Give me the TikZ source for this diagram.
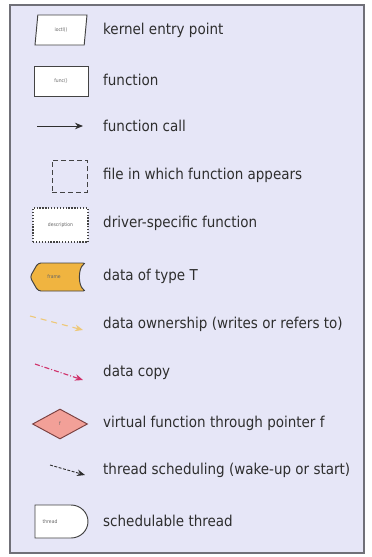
\documentclass[tikz,border=0pt]{standalone}
\usepackage{fontspec}
\setmainfont{DejaVu Sans Condensed}
\usetikzlibrary{shapes.geometric,arrows.meta}

\definecolor{legendbg}{HTML}{E6E6F7}
\definecolor{legendframe}{HTML}{707078}
\definecolor{inkdark}{HTML}{2E2E2E}
\definecolor{datafill}{HTML}{F0B440}
\definecolor{virtfill}{HTML}{F2A098}
\definecolor{virtdraw}{HTML}{7A4040}
\definecolor{ownline}{HTML}{EEC878}
\definecolor{copyline}{HTML}{D0306A}

\begin{document}
\begin{tikzpicture}[x=1pt,y=-1pt,
  lbl/.style={anchor=west,inner sep=0pt,text=inkdark,font=\fontsize{15}{16}\selectfont},
  tiny/.style={font=\fontsize{5}{6}\selectfont,text=black!60},
  iconline/.style={draw=inkdark!90,line width=0.95pt},
  entrybox/.style={iconline,fill=white,trapezium,trapezium stretches=true,
    trapezium left angle=80,trapezium right angle=100,
    minimum width=52pt,minimum height=30pt,inner sep=0pt,tiny},
  funcbox/.style={iconline,fill=white,rectangle,minimum width=54pt,minimum height=30pt,inner sep=0pt,tiny},
  filebox/.style={draw=inkdark!90,line width=0.95pt,dash pattern=on 5pt off 3pt,rectangle,
    minimum width=35pt,minimum height=32pt,inner sep=0pt},
  drvbox/.style={draw=inkdark!90,line width=1.3pt,dash pattern=on 1.3pt off 1.6pt,fill=white,rectangle,
    minimum width=55pt,minimum height=34pt,inner sep=0pt,tiny},
  virtbox/.style={draw=virtdraw,line width=0.95pt,fill=virtfill,diamond,aspect=1.8,
    minimum width=55pt,minimum height=30pt,inner sep=0pt,tiny},
  tip/.style={-{Stealth[length=8pt,width=6.5pt]}},
  callarrow/.style={tip,draw=inkdark,line width=1pt},
  ownarrow/.style={tip,draw=ownline,line width=1.1pt,dash pattern=on 6pt off 5pt},
  copyarrow/.style={tip,draw=copyline,line width=1.1pt,dash pattern=on 5pt off 2pt on 1pt off 2pt},
  schedarrow/.style={tip,draw=inkdark,line width=0.9pt,dash pattern=on 3pt off 1.5pt},
]
\useasboundingbox (0,0) rectangle (372,557);
\fill[white] (0,0) rectangle (372,557);

% legend frame
\draw[draw=legendframe,line width=1.5pt,fill=legendbg] (10,5) rectangle (364,553);

% kernel entry point
\node[entrybox] (entry) at (61,30) {ioctl()};
\node[lbl] (entrytxt) at (103,30) {kernel entry point};

% function
\node[funcbox] (func) at (61,81) {func()};
\node[lbl] (functxt) at (103,80) {function};

% function call
\coordinate (callA) at (37,126);
\coordinate (callB) at (83,126);
\draw[callarrow] (callA) -- (callB);
\node[lbl] (calltxt) at (103,126) {function call};

% file
\node[filebox] (file) at (69.5,176) {};
\node[lbl] (filetxt) at (103,175) {file in which function appears};

% driver-specific function
\node[drvbox] (drv) at (60.5,225) {description};
\node[lbl] (drvtxt) at (103,223) {driver-specific function};

% data of type T
\draw[iconline,fill=datafill,rounded corners=3pt]
  (38,263) -- (30,277) -- (38,291) -- (86,291)
  .. controls (78,286) and (78,268) .. (86,263) -- cycle;
\node[tiny] (data) at (54,277) {frame};
\node[lbl] (datatxt) at (103,276) {data of type T};

% data ownership
\coordinate (ownA) at (30,316);
\coordinate (ownB) at (83,330);
\draw[ownarrow] (ownA) -- (ownB);
\node[lbl] (owntxt) at (103,324) {data ownership (writes or refers to)};

% data copy
\coordinate (copyA) at (35,364);
\coordinate (copyB) at (83,380);
\draw[copyarrow] (copyA) -- (copyB);
\node[lbl] (copytxt) at (103,372) {data copy};

% virtual function
\node[virtbox] (virt) at (60,424) {f};
\node[lbl] (virttxt) at (103,423) {virtual function through pointer f};

% thread scheduling
\coordinate (schedA) at (50,465);
\coordinate (schedB) at (85,475);
\draw[schedarrow] (schedA) -- (schedB);
\node[lbl] (schedtxt) at (103,470) {thread scheduling (wake-up or start)};

% schedulable thread
\draw[iconline,fill=white] (35,505) -- (71,505) arc[start angle=-90,end angle=90,x radius=17pt,y radius=-16.5pt] -- (35,538) -- cycle;
\node[tiny] (thread) at (50,521.5) {thread};
\node[lbl] (threadtxt) at (103,521) {schedulable thread};
\end{tikzpicture}
\end{document}
